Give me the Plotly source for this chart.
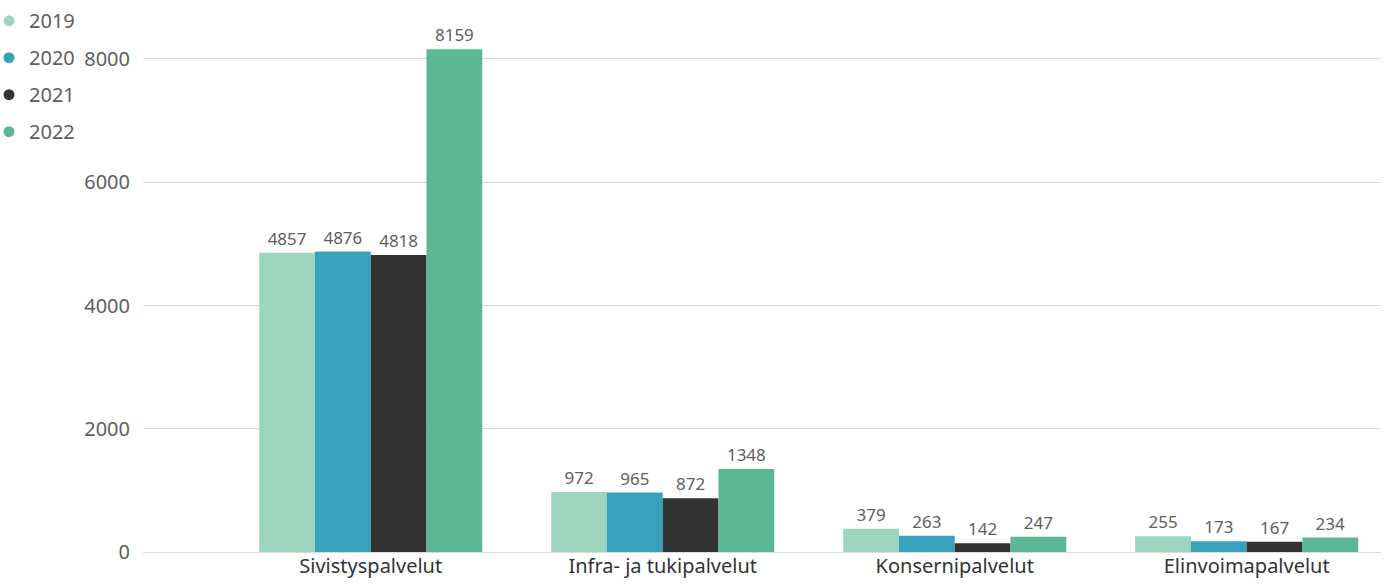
import plotly.graph_objects as go

categories = ["Sivistyspalvelut", "Infra- ja tukipalvelut", "Konsernipalvelut", "Elinvoimapalvelut"]
years = ["2019", "2020", "2021", "2022"]
values_2019 = [4857, 972, 379, 255]
values_2020 = [4876, 965, 263, 173]
values_2021 = [4818, 872, 142, 167]
values_2022 = [8159, 1348, 247, 234]
y_ticks = [0, 2000, 4000, 6000, 8000]

series = [values_2019, values_2020, values_2021, values_2022]
colors = ["#9DD5BF", "#38A1BC", "#333333", "#5BB794"]

FONT = "Noto Sans"
TEXT_GREY = "#605E5C"

fig = go.Figure()
x_idx = list(range(len(categories)))

for year, vals, col in zip(years, series, colors):
    fig.add_trace(go.Bar(
        x=x_idx, y=vals, name=year,
        marker=dict(color=col, line=dict(width=0)),
        text=[str(v) for v in vals], textposition="outside",
        textfont=dict(family=FONT, size=17, color=TEXT_GREY),
        cliponaxis=False, showlegend=False, hoverinfo="x+y",
    ))

# circular legend markers
for year, col in zip(years, colors):
    fig.add_trace(go.Scatter(
        x=[None], y=[None], mode="markers", name=year, legendgroup=year,
        marker=dict(symbol="circle", size=11, color=col),
    ))

# plot area is 1387 - 143 - 6 = 1238 px wide; legend sits a little past its left margin
fig.update_layout(
    width=1387, height=586,
    margin=dict(l=143, r=6, t=10, b=34, autoexpand=False),
    paper_bgcolor="white", plot_bgcolor="white",
    barmode="group", bargap=0.236, bargroupgap=0,
    font=dict(family=FONT, color=TEXT_GREY),
    showlegend=True,
    legend=dict(
        x=-154 / 1238, y=0.998, xanchor="left", yanchor="top",
        xref="paper", yref="container",
        font=dict(family=FONT, size=20, color=TEXT_GREY),
        traceorder="grouped", tracegroupgap=8, itemwidth=30,
        bgcolor="rgba(0,0,0,0)",
    ),
    xaxis=dict(
        tickmode="array", tickvals=x_idx, ticktext=categories,
        range=[-0.78, 3.46], showgrid=False, zeroline=False,
        showline=False, ticks="",
        tickfont=dict(family=FONT, size=20, color="#333333"),
    ),
    yaxis=dict(
        range=[0, 8795], tickmode="array", tickvals=y_ticks,
        showgrid=True, gridcolor="#DADADA", gridwidth=1,
        zeroline=True, zerolinecolor="#DADADA", zerolinewidth=1,
        showline=False, ticks="", ticklabelstandoff=12,
        tickfont=dict(family=FONT, size=20, color=TEXT_GREY),
    ),
)

fig.write_html("out.html")
